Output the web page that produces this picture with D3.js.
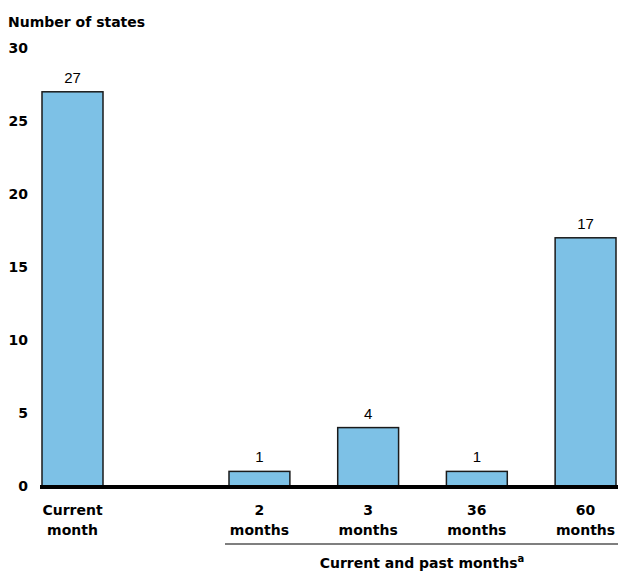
<!DOCTYPE html>
<html>
<head>
<meta charset="utf-8">
<script src="https://cdn.jsdelivr.net/npm/d3@7"></script>
<style>
  body { margin: 0; background: #fff; }
  text { font-family: Arial, "Liberation Sans", sans-serif; }
  .bold { font-family: "DejaVu Sans", Arial, sans-serif; font-weight: bold; }
</style>
</head>
<body>
<div id="div_chart"></div>
<script>
// categories and values
const currentCat = ["Current month"];
const pastCats = ["2 months", "3 months", "36 months", "60 months"];
const currentVals = [27];
const pastVals = [1, 4, 1, 17];
const yTicks = [0, 5, 10, 15, 20, 25, 30];

const W = 618, H = 575;

const svg = d3.select("#div_chart")
  .append("svg")
    .attr("width", W)
    .attr("height", H);

// y scale
const y = d3.scaleLinear()
  .domain([0, 30])
  .range([486, 48]);

// x scales: the lone "current" bar and the grouped past months
const xCur = d3.scaleBand()
  .domain(currentCat)
  .range([42, 103])
  .padding(0);

const xPast = d3.scaleBand()
  .domain(pastCats)
  .range([229, 616])
  .paddingInner(0.44)
  .paddingOuter(0);

const data = currentCat.map((c, i) => ({cat: c, value: currentVals[i], x: xCur(c), w: xCur.bandwidth()}))
  .concat(pastCats.map((c, i) => ({cat: c, value: pastVals[i], x: xPast(c), w: xPast.bandwidth()})));

// axis title
svg.append("text")
  .attr("class", "bold")
  .attr("x", 8)
  .attr("y", 27)
  .attr("font-size", 14)
  .text("Number of states");

// y axis tick labels (no axis line)
const yAxis = svg.append("g")
  .attr("transform", "translate(33,0)")
  .call(d3.axisLeft(y).tickValues(yTicks).tickSize(0).tickPadding(5));
yAxis.select(".domain").remove();
yAxis.attr("font-family", null).attr("font-size", null);
yAxis.selectAll("text")
  .attr("class", "bold")
  .attr("font-size", 14)
  .attr("fill", "#000");

// bars
svg.selectAll("rect.bar")
  .data(data)
  .join("rect")
    .attr("class", "bar")
    .attr("x", d => d.x)
    .attr("y", d => y(d.value))
    .attr("width", d => d.w)
    .attr("height", d => y(0) - y(d.value))
    .attr("fill", "#7dc1e6")
    .attr("stroke", "#1a1a1a")
    .attr("stroke-width", 1.5);

// value labels
svg.selectAll("text.val")
  .data(data)
  .join("text")
    .attr("class", "val")
    .attr("x", d => d.x + d.w / 2)
    .attr("y", d => y(d.value) - 9)
    .attr("text-anchor", "middle")
    .attr("font-size", 15)
    .text(d => d.value);

// baseline
svg.append("line")
  .attr("x1", 40)
  .attr("x2", W)
  .attr("y1", y(0) + 1)
  .attr("y2", y(0) + 1)
  .attr("stroke", "#000")
  .attr("stroke-width", 4);

// category labels (two lines)
const catLab = svg.selectAll("text.cat")
  .data(data)
  .join("text")
    .attr("class", "cat bold")
    .attr("text-anchor", "middle")
    .attr("font-size", 14);
catLab.each(function(d) {
  const parts = d.cat.split(" ");
  const cx = d.x + d.w / 2;
  d3.select(this).selectAll("tspan")
    .data(parts)
    .join("tspan")
      .attr("x", cx)
      .attr("y", (p, i) => 515 + i * 20)
      .text(p => p);
});

// group bracket line and label
svg.append("line")
  .attr("x1", xPast.range()[0] - 4)
  .attr("x2", W)
  .attr("y1", 544)
  .attr("y2", 544)
  .attr("stroke", "#000")
  .attr("stroke-width", 1.2);

const grp = svg.append("text")
  .attr("class", "bold")
  .attr("x", 422)
  .attr("y", 568)
  .attr("text-anchor", "middle")
  .attr("font-size", 14);
grp.append("tspan").text("Current and past months");
grp.append("tspan")
  .attr("dy", -6)
  .attr("font-size", 10)
  .text("a");
</script>
</body>
</html>
